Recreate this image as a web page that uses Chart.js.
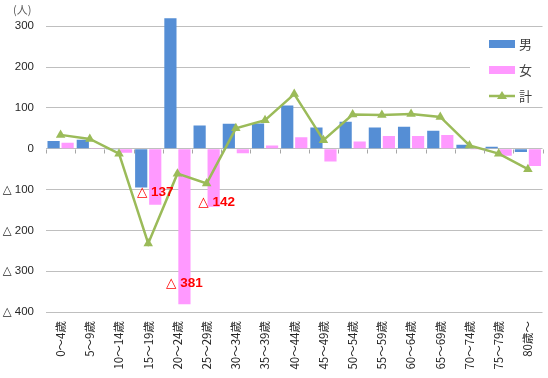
<!DOCTYPE html>
<html><head><meta charset="utf-8">
<script src="https://cdn.jsdelivr.net/npm/chart.js@4/dist/chart.umd.min.js"></script>
<style>html,body{margin:0;padding:0;background:#fff;}#wrap{width:548px;height:378px;}</style>
</head><body><div id="wrap"><canvas id="c" width="548" height="378"></canvas></div>
<script>
const categories = ['0～4歳','5～9歳','10～14歳','15～19歳','20～24歳','25～29歳','30～34歳','35～39歳','40～44歳','45～49歳','50～54歳','55～59歳','60～64歳','65～69歳','70～74歳','75～79歳','80歳～'];
const maleValues   = [19, 22, -2, -95, 320, 57, 61, 62, 106, 52, 66, 52, 54, 44, 10, 5, -8];
const femaleValues = [15, 2, -10, -137, -381, -142, -11, 8, 28, -31, 18, 31, 31, 34, -2, -17, -42];
const totalValues  = [34, 24, -12, -232, -61, -85, 50, 70, 134, 21, 84, 83, 85, 78, 8, -12, -50];
const seriesNames = ['男', '女', '計'];
const noteIndices = [3, 5, 4];
const yTickValues = [300, 200, 100, 0, -100, -200, -300, -400];
const unitLabel = '(人)';

const FONT = '"Liberation Sans", "DejaVu Sans", sans-serif';
const COLORS = ['#558ED5', '#FF99FF', '#9BBB59'];

function fmt(v){ return v < 0 ? '△ ' + Math.abs(v) : String(v); }

const extras = {
  id: 'extras',
  afterDatasetsDraw(chart) {
    const ctx = chart.ctx;
    const xs = chart.scales.x, ys = chart.scales.y;
    ctx.save();
    ctx.strokeStyle = '#A6A6A6';
    ctx.lineWidth = 1;
    const y0 = Math.round(ys.getPixelForValue(0)) + 0.5;
    const n = categories.length;
    const w = (xs.right - xs.left) / n;
    ctx.beginPath();
    for (let i = 0; i <= n; i++) {
      const x = Math.round(xs.left + i * w) + 0.5;
      ctx.moveTo(x, y0); ctx.lineTo(x, y0 + 4);
    }
    ctx.stroke();
    const offs = [-12, -4, -21];
    const dx = [0, 3, 0];
    const meta = chart.getDatasetMeta(1);
    ctx.fillStyle = '#FF0000';
    ctx.font = 'bold 13.5px ' + FONT;
    ctx.textAlign = 'center';
    ctx.textBaseline = 'middle';
    noteIndices.forEach((idx, k) => {
      const el = meta.data[idx];
      ctx.fillText(fmt(femaleValues[idx]), el.x + dx[k], el.y + offs[k]);
    });
    ctx.fillStyle = '#595959';
    ctx.font = '11px "Noto Sans CJK JP", sans-serif';
    ctx.textAlign = 'left';
    ctx.fillText(unitLabel, 13, 10);
    ctx.fillStyle = '#fff';
    ctx.fillRect(470, 30, 76, 75);
    const rows = [44, 70, 96];
    ctx.font = '13px "Noto Sans CJK JP", sans-serif';
    rows.forEach((ry, i) => {
      if (i < 2) {
        ctx.fillStyle = COLORS[i];
        ctx.fillRect(489, ry - 4, 26, 8);
      } else {
        ctx.strokeStyle = COLORS[2];
        ctx.lineWidth = 2.5;
        ctx.beginPath(); ctx.moveTo(489, ry); ctx.lineTo(515, ry); ctx.stroke();
        ctx.fillStyle = COLORS[2];
        ctx.beginPath(); ctx.moveTo(502, ry - 5); ctx.lineTo(507, ry + 3); ctx.lineTo(497, ry + 3); ctx.closePath(); ctx.fill();
      }
      ctx.fillStyle = '#404040';
      ctx.textAlign = 'left';
      ctx.fillText(seriesNames[i], 519, ry);
    });
    ctx.restore();
  }
};

new Chart(document.getElementById('c'), {
  type: 'bar',
  data: {
    labels: categories,
    datasets: [
      { label: seriesNames[0], data: maleValues, backgroundColor: COLORS[0], order: 2, categoryPercentage: 0.96, barPercentage: 0.87 },
      { label: seriesNames[1], data: femaleValues, backgroundColor: COLORS[1], order: 2, categoryPercentage: 0.96, barPercentage: 0.87 },
      { type: 'line', label: seriesNames[2], data: totalValues, borderColor: COLORS[2], backgroundColor: COLORS[2],
        borderWidth: 2.5, pointStyle: 'triangle', pointRadius: 5.5, pointBorderWidth: 0, order: 0, tension: 0 }
    ]
  },
  options: {
    responsive: false,
    animation: false,
    devicePixelRatio: 1,
    layout: { padding: { top: 10, right: 1, left: 0, bottom: 0 } },
    plugins: { legend: { display: false }, tooltip: { enabled: false } },
    scales: {
      x: {
        grid: { display: false, drawTicks: false },
        border: { display: false },
        ticks: { minRotation: 90, maxRotation: 90, autoSkip: false, padding: 9, color: '#262626',
                 font: { family: '"Noto Sans CJK JP", sans-serif', size: 11.5 } },
        afterFit(s) { s.height = 66; s.paddingLeft = 0; s.paddingRight = 0; }
      },
      y: {
        min: -400, max: 340,
        afterBuildTicks(s) { s.ticks = yTickValues.map(v => ({ value: v })); },
        grid: { color: '#BFBFBF', drawTicks: false, lineWidth: 1 },
        border: { display: false },
        ticks: { padding: 12, color: '#262626', font: { family: FONT, size: 11.5 }, callback: v => fmt(v) },
        afterFit(s) { s.width = 46; s.paddingTop = 0; s.paddingBottom = 0; }
      }
    }
  },
  plugins: [extras]
});
</script></body></html>
